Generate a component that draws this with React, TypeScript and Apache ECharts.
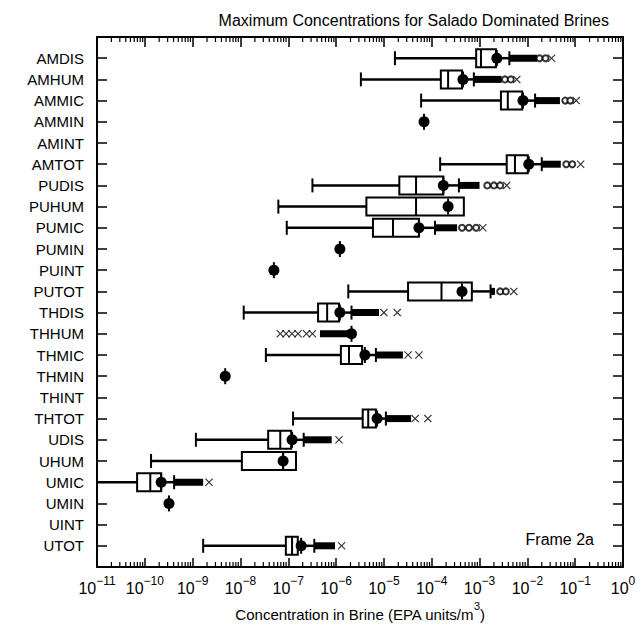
import React, { useEffect, useRef } from 'react';
import * as echarts from 'echarts';

// ---------- data (concentrations in EPA units/m^3) ----------
const categories = [
  'AMDIS', 'AMHUM', 'AMMIC', 'AMMIN', 'AMINT', 'AMTOT',
  'PUDIS', 'PUHUM', 'PUMIC', 'PUMIN', 'PUINT', 'PUTOT',
  'THDIS', 'THHUM', 'THMIC', 'THMIN', 'THINT', 'THTOT',
  'UDIS', 'UHUM', 'UMIC', 'UMIN', 'UINT', 'UTOT',
];

const whiskerLow = [1.7e-5, 3.3e-6, 6.0e-5, null, null, 1.5e-4, 3.2e-7, 6.2e-8, 9.3e-8, null, null, 1.8e-6, 1.17e-8, null, 3.4e-8, null, null, 1.26e-7, 1.17e-9, 1.35e-10, 1e-11, null, null, 1.66e-9];
const quartile1 = [8.5e-4, 1.55e-4, 2.8e-3, null, null, 3.7e-3, 2.1e-5, 4.3e-6, 5.9e-6, null, null, 3.2e-5, 4.2e-7, null, 1.26e-6, null, null, 3.6e-6, 3.8e-8, 1.07e-8, 6.9e-11, null, null, 8.9e-8];
const medianValues = [1.07e-3, 2.2e-4, 3.9e-3, null, null, 5.5e-3, 4.7e-5, 4.7e-5, 1.55e-5, null, null, 1.6e-4, 6.5e-7, null, 1.86e-6, null, null, 4.7e-6, 6.8e-8, 7.8e-8, 1.3e-10, null, null, 1.2e-7];
const quartile3 = [2.2e-3, 4.3e-4, 7.8e-3, null, null, 1.02e-2, 1.75e-4, 4.7e-4, 5.4e-5, null, null, 6.9e-4, 1.15e-6, null, 3.5e-6, null, null, 6.8e-6, 1.15e-7, 1.45e-7, 2.2e-10, null, null, 1.58e-7];
const whiskerHigh = [4.2e-3, 7.6e-4, 1.45e-2, null, null, 2.0e-2, 3.7e-4, 4.7e-4, 1.17e-4, null, null, 1.7e-3, 2.1e-6, null, 6.8e-6, null, null, 1.1e-5, 2.1e-7, 1.45e-7, 4.1e-10, null, null, 3.5e-7];
const meanValues = [2.3e-3, 4.5e-4, 8.1e-3, 6.9e-5, null, 1.07e-2, 1.75e-4, 2.2e-4, 5.4e-5, 1.2e-6, 5.0e-8, 4.3e-4, 1.2e-6, 2.1e-6, 4.0e-6, 4.8e-9, null, 7.2e-6, 1.2e-7, 7.8e-8, 2.2e-10, 3.2e-10, null, 1.86e-7];
// dense runs of outliers (drawn as a thick band)
const denseLowStart = [null, null, null, null, null, null, null, null, null, null, null, null, null, 4.6e-7, null, null, null, null, null, null, null, null, null, null];
const denseHighEnd = [1.6e-2, 2.9e-3, 4.8e-2, null, null, 5.0e-2, 1.0e-3, null, 3.4e-4, null, null, 2.1e-3, 7.9e-6, null, 2.5e-5, null, null, 3.7e-5, 8.1e-7, null, 1.66e-9, null, null, 9.5e-7];

// isolated outliers: [value, row index]
const openOutliers: [number, number][] = [
  [1.8e-2, 0], [2.4e-2, 0],
  [3.4e-3, 1], [4.5e-3, 1],
  [6.2e-2, 2], [7.9e-2, 2],
  [6.5e-2, 5], [8.7e-2, 5],
  [1.45e-3, 6], [2.0e-3, 6], [2.7e-3, 6],
  [4.3e-4, 8], [6.0e-4, 8], [8.5e-4, 8],
  [2.7e-3, 11], [3.55e-3, 11],
];
const crossOutliers: [number, number][] = [
  [3.2e-2, 0], [6.0e-3, 1], [1.05e-1, 2], [1.3e-1, 5], [3.7e-3, 6], [1.17e-3, 8], [5.2e-3, 11],
  [1.0e-5, 12], [1.9e-5, 12],
  [6.8e-8, 13], [9.0e-8, 13], [1.2e-7, 13], [1.6e-7, 13], [2.4e-7, 13], [3.2e-7, 13],
  [3.2e-5, 14], [5.4e-5, 14],
  [4.5e-5, 17], [8.3e-5, 17],
  [1.15e-6, 18], [2.2e-9, 20], [1.3e-6, 23],
];

const tickExponents = ['−11', '−10', '−9', '−8', '−7', '−6', '−5', '−4', '−3', '−2', '−1', '0'];
const minorMultipliers = [2, 3, 4, 5, 6, 7, 8, 9];

const FONT = '"Liberation Sans", Arial, Helvetica, sans-serif';
const lg = (v: number | null) => (v == null ? NaN : Math.log10(v));

export default function App() {
  const ref = useRef<HTMLDivElement>(null);

  useEffect(() => {
    if (!ref.current) return;
    const chart = echarts.init(ref.current, undefined, { renderer: 'svg' });

    const boxData = categories.map((_, i) => [
      i,
      lg(whiskerLow[i]), lg(quartile1[i]), lg(medianValues[i]), lg(quartile3[i]),
      lg(whiskerHigh[i]), lg(meanValues[i]), lg(denseLowStart[i]), lg(denseHighEnd[i]),
    ]);

    const ok = (x: number) => Number.isFinite(x);

    const renderBox = (params: any, api: any) => {
      const row = api.value(0) as number;
      const val = (k: number) => api.value(k) as number;
      const lo = val(1), q1 = val(2), md = val(3), q3 = val(4), hi = val(5), mn = val(6), dl = val(7), dh = val(8);
      const P = (x: number) => api.coord([x, row]);
      const yc = P(ok(mn) ? mn : q1)[1];
      const line = (x1: number, y1: number, x2: number, y2: number, w = 2) => ({
        type: 'line', shape: { x1, y1, x2, y2 }, style: { stroke: '#000', lineWidth: w },
      });
      const children: any[] = [];
      if (ok(lo) && ok(q1)) {
        const a = P(lo)[0], b = P(q1)[0];
        children.push(line(a, yc, b, yc, 2.5));
        children.push(line(a, yc - 7, a, yc + 7, 2));
      }
      if (ok(q3) && ok(hi)) {
        const a = P(q3)[0], b = P(hi)[0];
        children.push(line(a, yc, b, yc, 2.5));
        if (b - a > 2) children.push(line(b, yc - 7, b, yc + 7, 2));
      }
      if (ok(dh) && ok(hi)) {
        const a = P(hi)[0], b = P(dh)[0];
        children.push({ type: 'rect', shape: { x: a, y: yc - 3.5, width: b - a, height: 7 }, style: { fill: '#000' } });
      }
      if (ok(dl) && ok(mn)) {
        const a = P(dl)[0], b = P(mn)[0];
        children.push({ type: 'rect', shape: { x: a, y: yc - 3.5, width: b - a, height: 7 }, style: { fill: '#000' } });
      }
      if (ok(q1) && ok(q3)) {
        const a = P(q1)[0], b = P(q3)[0];
        children.push({
          type: 'rect', shape: { x: a, y: yc - 9, width: b - a, height: 18 },
          style: { fill: '#fff', stroke: '#000', lineWidth: 2 },
        });
      }
      if (ok(md)) {
        const m = P(md)[0];
        children.push(line(m, yc - 9, m, yc + 9, 2));
      }
      if (ok(mn)) {
        const m = P(mn)[0];
        children.push(line(m, yc - 8, m, yc + 8, 2));
        children.push({ type: 'circle', shape: { cx: m, cy: yc, r: 5.5 }, style: { fill: '#000' } });
      }
      return { type: 'group', children };
    };

    const renderMinorTicks = (params: any, api: any) => {
      const children: any[] = [];
      for (let n = -11; n < 0; n++) {
        for (const k of minorMultipliers) {
          const x = n + Math.log10(k);
          const top = api.coord([x, -1]);
          const bot = api.coord([x, 24]);
          children.push({ type: 'line', shape: { x1: top[0], y1: top[1], x2: top[0], y2: top[1] + 5 }, style: { stroke: '#000', lineWidth: 1.2 } });
          children.push({ type: 'line', shape: { x1: bot[0], y1: bot[1], x2: bot[0], y2: bot[1] - 5 }, style: { stroke: '#000', lineWidth: 1.2 } });
        }
      }
      return { type: 'group', children };
    };

    const axisLine = { show: true, onZero: false, lineStyle: { color: '#000', width: 2 } };

    const option: any = {
      animation: false,
      backgroundColor: '#fff',
      title: {
        text: 'Maximum Concentrations for Salado Dominated Brines',
        right: 30,
        top: 7,
        textStyle: { fontFamily: FONT, fontSize: 16, fontWeight: 'normal', color: '#000' },
      },
      grid: { left: 97, right: 21, top: 37, bottom: 63 },
      xAxis: [
        {
          type: 'value', min: -11, max: 0, interval: 1, position: 'bottom',
          axisLine,
          axisTick: { inside: true, length: 9, lineStyle: { color: '#000', width: 1.5 } },
          splitLine: { show: false },
          axisLabel: {
            margin: 8, showMinLabel: true, showMaxLabel: true,
            formatter: (v: number) => `{a|10}{b|${tickExponents[Math.round(v) + 11]}}`,
            rich: {
              a: { fontFamily: FONT, fontSize: 16, color: '#000', lineHeight: 21, verticalAlign: 'bottom' },
              b: { fontFamily: FONT, fontSize: 12, color: '#000', lineHeight: 21, verticalAlign: 'top' },
            },
          },
          name: '{n|Concentration in Brine (EPA units/m}{s|3}{n|)}',
          nameLocation: 'middle',
          nameGap: 33,
          nameTextStyle: {
            rich: {
              n: { fontFamily: FONT, fontSize: 15, color: '#000', lineHeight: 21, verticalAlign: 'bottom' },
              s: { fontFamily: FONT, fontSize: 11, color: '#000', lineHeight: 21, verticalAlign: 'top' },
            },
          },
        },
        {
          type: 'value', min: -11, max: 0, interval: 1, position: 'top',
          axisLine,
          axisTick: { inside: true, length: 10, lineStyle: { color: '#000', width: 1.5 } },
          axisLabel: { show: false },
          splitLine: { show: false },
        },
      ],
      yAxis: [
        {
          type: 'value', min: -1, max: 24, interval: 1, inverse: true, position: 'left',
          axisLine,
          axisTick: { inside: true, length: 10, lineStyle: { color: '#000', width: 1.5 } },
          splitLine: { show: false },
          axisLabel: {
            margin: 13, fontFamily: FONT, fontSize: 15, color: '#000',
            formatter: (v: number) => categories[v] ?? '',
          },
        },
        {
          type: 'value', min: -1, max: 24, interval: 1, inverse: true, position: 'right',
          axisLine,
          axisTick: { inside: true, length: 10, lineStyle: { color: '#000', width: 1.5 } },
          splitLine: { show: false },
          axisLabel: { show: false },
        },
      ],
      graphic: [
        {
          type: 'text', right: 50, top: 531,
          style: { text: 'Frame 2a', fontFamily: FONT, fontSize: 16, fill: '#000' },
        },
      ],
      series: [
        {
          type: 'custom', name: 'minor ticks', silent: true, xAxisIndex: 0, yAxisIndex: 0,
          data: [[0, 0]], renderItem: renderMinorTicks, clip: false,
        },
        {
          type: 'custom', name: 'concentration', xAxisIndex: 0, yAxisIndex: 0,
          data: boxData,
          dimensions: ['row', 'low', 'q1', 'median', 'q3', 'high', 'mean', 'denseLow', 'denseHigh'],
          encode: { y: 0, x: [1, 2, 3, 4, 5, 6] },
          renderItem: renderBox,
        },
        {
          type: 'scatter', name: 'outliers', symbol: 'emptyCircle', symbolSize: 6,
          itemStyle: { color: '#000', borderColor: '#000', borderWidth: 1.5 },
          data: openOutliers.map(([v, r]) => [Math.log10(v), r]),
        },
        {
          type: 'scatter', name: 'extreme outliers',
          symbol: 'path://M0,1L1,0L5,4L9,0L10,1L6,5L10,9L9,10L5,6L1,10L0,9L4,5Z',
          symbolSize: 8,
          itemStyle: { color: '#000' },
          data: crossOutliers.map(([v, r]) => [Math.log10(v), r]),
        },
      ],
    };

    chart.setOption(option);
    return () => chart.dispose();
  }, []);

  return <div ref={ref} style={{ width: 644, height: 630, position: 'absolute', left: 0, top: 0, background: '#fff' }} />;
}
